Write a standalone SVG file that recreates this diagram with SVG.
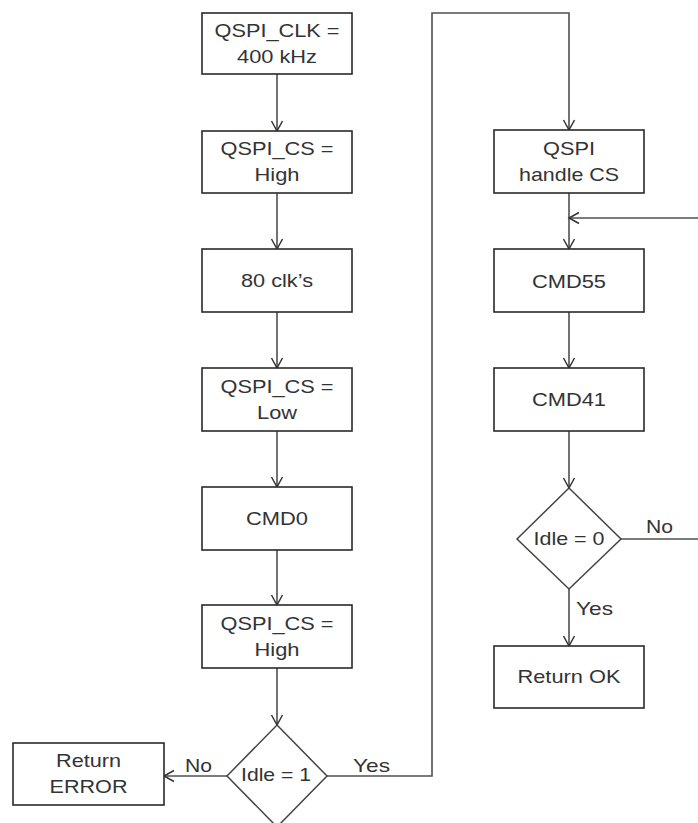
<svg xmlns="http://www.w3.org/2000/svg" width="698" height="823" viewBox="0 0 698 823">
<style>
.box{fill:#fff;stroke:#2a2a2a;stroke-width:1.6}
.dia{fill:#fff;stroke:#444;stroke-width:1.5}
.t{font-family:"Liberation Sans",Arial,sans-serif;font-size:19px;fill:#333;text-anchor:middle}
.l{font-family:"Liberation Sans",Arial,sans-serif;font-size:19px;fill:#333}
.c{fill:none;stroke:#505050;stroke-width:1.6}
</style>
<defs>
<marker id="arr" markerUnits="userSpaceOnUse" markerWidth="14" markerHeight="14" viewBox="-12 -7 14 14" refX="0" refY="0" orient="auto">
<path d="M-10,-5.5 L0,0 L-10,5.5" fill="none" stroke="#333" stroke-width="1.5"/>
</marker>
</defs>
<rect width="698" height="823" fill="#fff"/>
<g id="connectors">
<path class="c" d="M277,74 V131" marker-end="url(#arr)"/>
<path class="c" d="M277,193 V249" marker-end="url(#arr)"/>
<path class="c" d="M277,312 V368" marker-end="url(#arr)"/>
<path class="c" d="M277,431 V487" marker-end="url(#arr)"/>
<path class="c" d="M277,550 V605" marker-end="url(#arr)"/>
<path class="c" d="M277,668 V725" marker-end="url(#arr)"/>
<path class="c" d="M227,776 H164" marker-end="url(#arr)"/>
<path class="c" d="M327,776 H432 V13 H569 V130" marker-end="url(#arr)"/>
<path class="c" d="M569,193 V249" marker-end="url(#arr)"/>
<path class="c" d="M698,218 H569" marker-end="url(#arr)"/>
<path class="c" d="M569,312 V368" marker-end="url(#arr)"/>
<path class="c" d="M569,431 V488" marker-end="url(#arr)"/>
<path class="c" d="M621,539 H698"/>
<path class="c" d="M569,589 V646" marker-end="url(#arr)"/>
<text class="l" x="185" y="772" textLength="27" lengthAdjust="spacingAndGlyphs">No</text>
<text class="l" x="353" y="772" textLength="37" lengthAdjust="spacingAndGlyphs">Yes</text>
<text class="l" x="646" y="533" textLength="27" lengthAdjust="spacingAndGlyphs">No</text>
<text class="l" x="576" y="615" textLength="37" lengthAdjust="spacingAndGlyphs">Yes</text>
</g>
<g id="clk400">
<rect class="box" x="202" y="13" width="150" height="61"/>
<text class="t" x="277" y="37" textLength="125" lengthAdjust="spacingAndGlyphs">QSPI_CLK =</text>
<text class="t" x="277" y="63" textLength="80" lengthAdjust="spacingAndGlyphs">400 kHz</text>
</g>
<g id="csHigh1">
<rect class="box" x="202" y="131" width="150" height="62"/>
<text class="t" x="277" y="155" textLength="113" lengthAdjust="spacingAndGlyphs">QSPI_CS =</text>
<text class="t" x="277" y="181" textLength="45" lengthAdjust="spacingAndGlyphs">High</text>
</g>
<g id="clk80">
<rect class="box" x="202" y="249" width="150" height="63"/>
<text class="t" x="277" y="287" textLength="72" lengthAdjust="spacingAndGlyphs">80 clk’s</text>
</g>
<g id="csLow">
<rect class="box" x="202" y="368" width="150" height="63"/>
<text class="t" x="277" y="393" textLength="113" lengthAdjust="spacingAndGlyphs">QSPI_CS =</text>
<text class="t" x="277" y="419" textLength="40" lengthAdjust="spacingAndGlyphs">Low</text>
</g>
<g id="cmd0">
<rect class="box" x="202" y="487" width="150" height="63"/>
<text class="t" x="277" y="525" textLength="62" lengthAdjust="spacingAndGlyphs">CMD0</text>
</g>
<g id="csHigh2">
<rect class="box" x="202" y="605" width="150" height="63"/>
<text class="t" x="277" y="630" textLength="113" lengthAdjust="spacingAndGlyphs">QSPI_CS =</text>
<text class="t" x="277" y="656" textLength="45" lengthAdjust="spacingAndGlyphs">High</text>
</g>
<g id="idle1">
<polygon class="dia" points="277,725 327,776 277,827 227,776"/>
<text class="t" x="276" y="781" textLength="70" lengthAdjust="spacingAndGlyphs">Idle = 1</text>
</g>
<g id="retError">
<rect class="box" x="13" y="743" width="151" height="62"/>
<text class="t" x="88.5" y="767" textLength="65" lengthAdjust="spacingAndGlyphs">Return</text>
<text class="t" x="88.5" y="793" textLength="78" lengthAdjust="spacingAndGlyphs">ERROR</text>
</g>
<g id="handleCS">
<rect class="box" x="494" y="130" width="150" height="63"/>
<text class="t" x="569" y="155" textLength="52" lengthAdjust="spacingAndGlyphs">QSPI</text>
<text class="t" x="569" y="181" textLength="100" lengthAdjust="spacingAndGlyphs">handle CS</text>
</g>
<g id="cmd55">
<rect class="box" x="494" y="249" width="150" height="63"/>
<text class="t" x="569" y="288" textLength="74" lengthAdjust="spacingAndGlyphs">CMD55</text>
</g>
<g id="cmd41">
<rect class="box" x="494" y="368" width="150" height="63"/>
<text class="t" x="569" y="406" textLength="74" lengthAdjust="spacingAndGlyphs">CMD41</text>
</g>
<g id="idle0">
<polygon class="dia" points="569,488 621,539 569,589 517,539"/>
<text class="t" x="569" y="545" textLength="71" lengthAdjust="spacingAndGlyphs">Idle = 0</text>
</g>
<g id="retOK">
<rect class="box" x="494" y="646" width="150" height="62"/>
<text class="t" x="569" y="683" textLength="103" lengthAdjust="spacingAndGlyphs">Return OK</text>
</g>
</svg>
